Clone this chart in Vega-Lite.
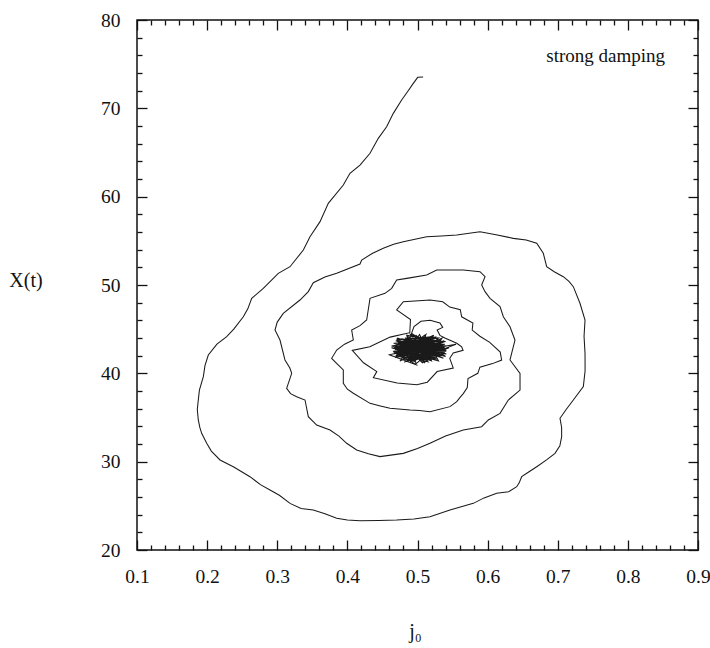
{
"$schema": "https://vega.github.io/schema/vega-lite/v6.json",
"width": 561, "height": 530,
"autosize": {"type": "none"},
"padding": {"left": 137, "top": 20, "right": 12, "bottom": 98},
"background": "white",
"config": {"view": {"stroke": "#111", "strokeWidth": 1.5}, "font": "Liberation Serif"},
"datasets": {
"traj": [
{"t":1,"j":0.508,"X":73.55},{"t":2,"j":0.5003,"X":73.51},{"t":3,"j":0.494,"X":72.83},{"t":4,"j":0.486,"X":71.9},{"t":5,"j":0.4774,"X":70.94},{"t":6,"j":0.4655,"X":69.43},{"t":7,"j":0.456,"X":67.92},{"t":8,"j":0.4441,"X":66.6},{"t":9,"j":0.4323,"X":64.91},{"t":10,"j":0.418,"X":63.58},
{"t":11,"j":0.4037,"X":62.64},{"t":12,"j":0.3942,"X":61.32},{"t":13,"j":0.3728,"X":59.25},{"t":14,"j":0.361,"X":57.17},{"t":15,"j":0.3467,"X":55.47},{"t":16,"j":0.3372,"X":53.96},{"t":17,"j":0.3182,"X":52.07},{"t":18,"j":0.3015,"X":51.32},{"t":19,"j":0.2801,"X":49.62},{"t":20,"j":0.2636,"X":48.49},
{"t":20.5,"j":0.258,"X":47.3},{"t":21,"j":0.2516,"X":46.41},{"t":21.5,"j":0.238,"X":45.0},{"t":22,"j":0.2279,"X":44.15},{"t":22.5,"j":0.214,"X":43.3},{"t":23,"j":0.2017,"X":42.07},{"t":23.5,"j":0.197,"X":40.9},{"t":24,"j":0.1946,"X":39.62},{"t":24.5,"j":0.189,"X":38.1},{"t":25,"j":0.1874,"X":36.98},{"t":25.5,"j":0.186,"X":35.9},{"t":26,"j":0.1874,"X":34.72},{"t":26.5,"j":0.1895,"X":33.9},{"t":27,"j":0.1922,"X":33.21},{"t":28,"j":0.1994,"X":32.08},{"t":28.5,"j":0.206,"X":31.2},{"t":29,"j":0.2184,"X":30.19},{"t":29.5,"j":0.238,"X":29.4},{"t":30,"j":0.2611,"X":28.3},
{"t":30.5,"j":0.276,"X":27.4},{"t":31,"j":0.2897,"X":26.79},{"t":31.5,"j":0.303,"X":26.2},{"t":32,"j":0.3182,"X":25.28},{"t":32.5,"j":0.334,"X":24.7},{"t":33,"j":0.3514,"X":24.53},{"t":33.5,"j":0.368,"X":24.1},{"t":34,"j":0.3848,"X":23.59},{"t":34.5,"j":0.40,"X":23.4},{"t":35,"j":0.418,"X":23.32},{"t":35.5,"j":0.445,"X":23.35},{"t":36,"j":0.4703,"X":23.39},{"t":36.5,"j":0.495,"X":23.5},{"t":37,"j":0.5178,"X":23.77},{"t":38,"j":0.5463,"X":24.53},{"t":39,"j":0.5796,"X":25.28},{"t":39.5,"j":0.595,"X":25.9},{"t":40,"j":0.6129,"X":26.42},
{"t":40.5,"j":0.63,"X":26.6},{"t":41,"j":0.6415,"X":27.17},{"t":41.5,"j":0.645,"X":27.6},{"t":42,"j":0.6486,"X":28.3},{"t":42.5,"j":0.658,"X":28.8},{"t":43,"j":0.67,"X":29.43},{"t":43.5,"j":0.684,"X":30.2},{"t":44,"j":0.6961,"X":30.94},{"t":44.5,"j":0.703,"X":31.8},{"t":45,"j":0.7056,"X":32.83},{"t":45.5,"j":0.7055,"X":33.9},{"t":46,"j":0.7032,"X":34.91},{"t":46.5,"j":0.712,"X":35.9},{"t":47,"j":0.7222,"X":36.98},{"t":48,"j":0.7365,"X":38.49},{"t":48.5,"j":0.739,"X":40.3},{"t":49,"j":0.7389,"X":42.26},{"t":49.5,"j":0.7375,"X":44.2},{"t":50,"j":0.7389,"X":46.04},
{"t":51,"j":0.7317,"X":47.93},{"t":52,"j":0.7222,"X":49.81},{"t":52.5,"j":0.716,"X":50.4},{"t":53,"j":0.7079,"X":50.94},{"t":53.5,"j":0.695,"X":51.5},{"t":54,"j":0.6842,"X":52.07},{"t":55,"j":0.6794,"X":53.59},{"t":56,"j":0.67,"X":54.72},{"t":56.5,"j":0.655,"X":55.1},{"t":57,"j":0.6366,"X":55.28},{"t":57.5,"j":0.612,"X":55.7},{"t":58,"j":0.5891,"X":56.03},{"t":59,"j":0.5559,"X":55.66},{"t":59.5,"j":0.534,"X":55.55},{"t":60,"j":0.5131,"X":55.47},
{"t":61,"j":0.4798,"X":54.9},{"t":61.5,"j":0.466,"X":54.6},{"t":62,"j":0.4512,"X":54.15},{"t":62.5,"j":0.436,"X":53.6},{"t":63,"j":0.4204,"X":52.83},{"t":64,"j":0.418,"X":52.38},{"t":65,"j":0.3848,"X":51.32},{"t":65.5,"j":0.368,"X":50.9},{"t":66,"j":0.3514,"X":50.26},{"t":67,"j":0.3443,"X":49.25},{"t":68,"j":0.3324,"X":48.3},{"t":69,"j":0.3086,"X":46.79},{"t":69.5,"j":0.300,"X":45.8},{"t":70,"j":0.2968,"X":44.9},
{"t":71,"j":0.3039,"X":43.77},{"t":72,"j":0.311,"X":41.51},{"t":72.5,"j":0.318,"X":40.6},{"t":73,"j":0.3206,"X":40},{"t":74,"j":0.3134,"X":38.3},{"t":74.5,"j":0.319,"X":37.7},{"t":75,"j":0.3277,"X":37.36},{"t":76,"j":0.3396,"X":36.98},{"t":77,"j":0.3443,"X":35.09},{"t":78,"j":0.3562,"X":34.15},{"t":79,"j":0.3752,"X":33.58},{"t":79.5,"j":0.388,"X":32.9},{"t":80,"j":0.399,"X":32.08},
{"t":81,"j":0.4133,"X":31.32},{"t":81.5,"j":0.43,"X":30.9},{"t":82,"j":0.4465,"X":30.57},{"t":83,"j":0.4798,"X":30.94},{"t":83.5,"j":0.50,"X":31.5},{"t":84,"j":0.5178,"X":32.08},{"t":84.5,"j":0.54,"X":32.9},{"t":85,"j":0.5653,"X":33.58},{"t":86,"j":0.5915,"X":33.96},{"t":87,"j":0.601,"X":34.72},{"t":88,"j":0.6177,"X":35.47},{"t":89,"j":0.6295,"X":36.98},{"t":90,"j":0.6462,"X":38.11},
{"t":91,"j":0.6462,"X":40},{"t":92,"j":0.6319,"X":41.51},{"t":93,"j":0.639,"X":43.77},{"t":94,"j":0.6319,"X":45.28},{"t":95,"j":0.6224,"X":46.41},{"t":96,"j":0.6177,"X":47.55},{"t":97,"j":0.6034,"X":48.49},{"t":98,"j":0.5963,"X":49.25},{"t":99,"j":0.5915,"X":50},{"t":100,"j":0.5963,"X":50.94},
{"t":101,"j":0.5891,"X":51.51},{"t":102,"j":0.5653,"X":51.7},{"t":103,"j":0.5274,"X":51.7},{"t":104,"j":0.5131,"X":51.13},{"t":105,"j":0.4846,"X":50.75},{"t":106,"j":0.4703,"X":50.57},{"t":107,"j":0.4632,"X":49.62},{"t":108,"j":0.4537,"X":49.06},{"t":109,"j":0.4323,"X":48.49},{"t":110,"j":0.4275,"X":46.04},
{"t":110.5,"j":0.418,"X":45.4},{"t":111,"j":0.4061,"X":44.9},{"t":112,"j":0.4085,"X":43.77},{"t":112.5,"j":0.396,"X":43.3},{"t":113,"j":0.3848,"X":42.64},{"t":114,"j":0.3776,"X":41.7},{"t":114.5,"j":0.385,"X":41.1},{"t":115,"j":0.3942,"X":40.38},{"t":116,"j":0.3942,"X":38.87},{"t":116.5,"j":0.40,"X":38.2},{"t":117,"j":0.4085,"X":37.74},{"t":118,"j":0.4323,"X":36.6},{"t":118.5,"j":0.447,"X":36.3},{"t":119,"j":0.4608,"X":36.04},{"t":120,"j":0.4893,"X":35.85},
{"t":120.5,"j":0.503,"X":35.8},{"t":121,"j":0.5178,"X":35.66},{"t":122,"j":0.5463,"X":36.23},{"t":122.5,"j":0.556,"X":36.8},{"t":123,"j":0.561,"X":37.3},{"t":124,"j":0.5653,"X":37.7},{"t":125,"j":0.571,"X":38.4},{"t":126,"j":0.572,"X":39.4},{"t":127,"j":0.586,"X":40},{"t":128,"j":0.589,"X":40.7},{"t":129,"j":0.607,"X":41.1},{"t":130,"j":0.62,"X":41.5},
{"t":131,"j":0.618,"X":42.4},{"t":132,"j":0.603,"X":43.5},{"t":133,"j":0.589,"X":44.2},{"t":134,"j":0.578,"X":44.9},{"t":135,"j":0.579,"X":45.7},{"t":136,"j":0.563,"X":46.4},{"t":137,"j":0.561,"X":47.2},{"t":138,"j":0.546,"X":47.5},{"t":139,"j":0.536,"X":48.1},{"t":140,"j":0.518,"X":48.3},
{"t":141,"j":0.4798,"X":48.11},{"t":142,"j":0.4703,"X":47.17},{"t":143,"j":0.49,"X":46.1},{"t":144,"j":0.489,"X":44.6},{"t":145,"j":0.461,"X":44.1},{"t":146,"j":0.432,"X":43},{"t":147,"j":0.407,"X":42.6},{"t":148,"j":0.423,"X":41.2},{"t":149,"j":0.442,"X":40.2},{"t":150,"j":0.437,"X":39.5},
{"t":151,"j":0.471,"X":38.9},{"t":152,"j":0.499,"X":38.7},{"t":153,"j":0.514,"X":39},{"t":154,"j":0.528,"X":40.2},{"t":155,"j":0.551,"X":40.6},{"t":156,"j":0.546,"X":41.7},{"t":157,"j":0.551,"X":42.3},{"t":158,"j":0.565,"X":42.6},{"t":159,"j":0.563,"X":43},{"t":160,"j":0.556,"X":43.4},
{"t":161,"j":0.539,"X":44},{"t":162,"j":0.532,"X":44.3},{"t":163,"j":0.528,"X":44.9},{"t":164,"j":0.536,"X":45.2},{"t":165,"j":0.532,"X":45.7},{"t":166,"j":0.518,"X":46.0},{"t":167,"j":0.505,"X":45.9},{"t":168,"j":0.495,"X":45.3},
{"t":169,"j":0.49,"X":44.2},{"t":170,"j":0.52,"X":43.9},{"t":171,"j":0.472,"X":43.5},{"t":172,"j":0.536,"X":43.1},{"t":173,"j":0.468,"X":42.7},{"t":174,"j":0.53,"X":42.3},{"t":175,"j":0.475,"X":42.0},{"t":176,"j":0.538,"X":42.9},{"t":177,"j":0.47,"X":43.2},{"t":178,"j":0.527,"X":44.1},
{"t":179,"j":0.48,"X":43.8},{"t":180,"j":0.541,"X":42.6},{"t":181,"j":0.466,"X":42.4},{"t":182,"j":0.522,"X":41.7},{"t":183,"j":0.478,"X":41.5},{"t":184,"j":0.535,"X":42.1},{"t":185,"j":0.47,"X":43.0},{"t":186,"j":0.532,"X":43.6},{"t":187,"j":0.485,"X":44.3},{"t":188,"j":0.515,"X":41.3},
{"t":189,"j":0.474,"X":42.2},{"t":190,"j":0.539,"X":43.3},{"t":191,"j":0.469,"X":43.7},{"t":192,"j":0.525,"X":42.0},{"t":193,"j":0.481,"X":41.8},{"t":194,"j":0.537,"X":42.5},{"t":195,"j":0.467,"X":42.9},{"t":196,"j":0.529,"X":44.0},{"t":197,"j":0.476,"X":43.4},{"t":198,"j":0.54,"X":42.8},
{"t":199,"j":0.472,"X":41.9},{"t":200,"j":0.518,"X":41.5},{"t":201,"j":0.49,"X":44.4},{"t":202,"j":0.533,"X":43.0},{"t":203,"j":0.465,"X":42.5},{"t":204,"j":0.526,"X":41.8},{"t":205,"j":0.483,"X":43.9},{"t":206,"j":0.538,"X":42.3},{"t":207,"j":0.471,"X":42.6},{"t":208,"j":0.531,"X":43.8},
{"t":209,"j":0.478,"X":42.1},{"t":210,"j":0.536,"X":42.0},{"t":211,"j":0.468,"X":43.1},{"t":212,"j":0.521,"X":44.2},{"t":213,"j":0.487,"X":41.4},{"t":214,"j":0.534,"X":42.7},{"t":215,"j":0.473,"X":43.6},{"t":216,"j":0.542,"X":43.1},{"t":217,"j":0.47,"X":42.3},{"t":218,"j":0.528,"X":41.6},
{"t":219,"j":0.482,"X":42.9},{"t":220,"j":0.537,"X":43.5},{"t":221,"j":0.466,"X":42.8},{"t":222,"j":0.524,"X":42.2},{"t":223,"j":0.476,"X":41.7},{"t":224,"j":0.539,"X":42.4},{"t":225,"j":0.471,"X":43.3},{"t":226,"j":0.53,"X":44.0},{"t":227,"j":0.495,"X":41.3},{"t":228,"j":0.512,"X":44.4},
{"t":229,"j":0.469,"X":42.0},{"t":230,"j":0.535,"X":43.2},{"t":231,"j":0.477,"X":43.9},{"t":232,"j":0.541,"X":42.5},{"t":233,"j":0.474,"X":42.4},{"t":234,"j":0.527,"X":43.4},{"t":235,"j":0.46,"X":42.1},{"t":236,"j":0.5,"X":40.9},{"t":237,"j":0.485,"X":41.6},{"t":238,"j":0.532,"X":42.6},
{"t":239,"j":0.555,"X":43.3},{"t":240,"j":0.52,"X":42.8},{"t":241,"j":0.505,"X":42.7},
{"t":242,"j":0.47,"X":43.9},{"t":243,"j":0.51,"X":41.2},{"t":244,"j":0.535,"X":44.0},{"t":245,"j":0.48,"X":41.9},{"t":246,"j":0.524,"X":43.7},{"t":247,"j":0.466,"X":43.4},{"t":248,"j":0.54,"X":41.9},{"t":249,"j":0.492,"X":44.5},{"t":250,"j":0.478,"X":42.5},
{"t":251,"j":0.53,"X":41.4},{"t":252,"j":0.51,"X":44.3},{"t":253,"j":0.468,"X":41.8},{"t":254,"j":0.538,"X":43.7},{"t":255,"j":0.498,"X":41.1},{"t":256,"j":0.485,"X":44.2},{"t":257,"j":0.541,"X":42.2},{"t":258,"j":0.463,"X":42.9},{"t":259,"j":0.52,"X":41.4},{"t":260,"j":0.503,"X":44.4},
{"t":261,"j":0.475,"X":41.4},{"t":262,"j":0.534,"X":43.9},{"t":263,"j":0.47,"X":42.2},{"t":264,"j":0.545,"X":42.9},{"t":265,"j":0.49,"X":41.3},{"t":266,"j":0.515,"X":44.1},{"t":267,"j":0.472,"X":43.8},{"t":268,"j":0.537,"X":41.7},{"t":269,"j":0.478,"X":43.2},{"t":270,"j":0.528,"X":43.1},
{"t":271,"j":0.5,"X":41.6},{"t":272,"j":0.483,"X":44.0},{"t":273,"j":0.54,"X":43.6},{"t":274,"j":0.466,"X":42.2},{"t":275,"j":0.523,"X":44.3},{"t":276,"j":0.494,"X":41.5},{"t":277,"j":0.536,"X":42.4},{"t":278,"j":0.471,"X":44.0},{"t":279,"j":0.507,"X":41.2},{"t":280,"j":0.543,"X":42.9},
{"t":281,"j":0.476,"X":41.9},{"t":282,"j":0.518,"X":43.9},{"t":283,"j":0.463,"X":43.1},{"t":284,"j":0.531,"X":41.9},{"t":285,"j":0.498,"X":44.3},{"t":286,"j":0.482,"X":41.3},{"t":287,"j":0.539,"X":43.0},{"t":288,"j":0.474,"X":43.0},{"t":289,"j":0.526,"X":42.7},{"t":290,"j":0.5,"X":43.5},
{"t":291,"j":0.49,"X":42.0},{"t":292,"j":0.515,"X":42.6},{"t":293,"j":0.495,"X":43.0},{"t":294,"j":0.51,"X":43.3},{"t":295,"j":0.502,"X":42.4}
],
"note": [{"j": 0.853, "X": 75.25, "label": "strong damping"}]
},
"layer": [
{
"data": {"name": "traj"},
"mark": {"type": "line", "stroke": "#1a1a1a", "strokeWidth": 1.05, "clip": true},
"encoding": {
"x": {"field": "j", "type": "quantitative", "scale": {"domain": [0.1, 0.9], "nice": false, "zero": false},
 "axis": {"orient": "bottom", "values": [0.1,0.12,0.14,0.16,0.18,0.2,0.22,0.24,0.26,0.28,0.3,0.32,0.34,0.36,0.38,0.4,0.42,0.44,0.46,0.48,0.5,0.52,0.54,0.56,0.58,0.6,0.62,0.64,0.66,0.68,0.7,0.72,0.74,0.76,0.78,0.8,0.82,0.84,0.86,0.88,0.9],
  "format": ".1f", "labelExpr": "abs(datum.value*10 - round(datum.value*10)) < 0.001 ? datum.label : ''",
  "tickSize": {"condition": {"test": "abs(datum.value*10 - round(datum.value*10)) < 0.001", "value": -10}, "value": -5},
  "tickColor": "#111", "tickWidth": 1.3, "domain": false, "grid": false,
  "labelFont": "Liberation Serif", "labelFontSize": 19.5, "labelColor": "#111", "labelPadding": 27, "labelFlush": false, "labelOverlap": false, "labelBound": false,
  "title": "j₀", "titleFont": "Liberation Serif", "titleFontSize": 20, "titleFontWeight": "normal", "titleColor": "#111",
  "titleX": 278, "titleY": 87.5, "titleAlign": "center", "titleBaseline": "alphabetic", "titleAngle": 0}},
"y": {"field": "X", "type": "quantitative", "scale": {"domain": [20, 80], "nice": false, "zero": false},
 "axis": {"orient": "left", "values": [20,22,24,26,28,30,32,34,36,38,40,42,44,46,48,50,52,54,56,58,60,62,64,66,68,70,72,74,76,78,80],
  "labelExpr": "datum.value % 10 == 0 ? datum.label : ''",
  "tickSize": {"condition": {"test": "datum.value % 10 == 0", "value": -10}, "value": -5},
  "tickColor": "#111", "tickWidth": 1.3, "domain": false, "grid": false,
  "labelFont": "Liberation Serif", "labelFontSize": 19.5, "labelColor": "#111", "labelPadding": 27, "labelFlush": false, "labelOverlap": false, "labelBound": false,
  "title": "X(t)", "titleFont": "Liberation Serif", "titleFontSize": 20, "titleFontWeight": "normal", "titleColor": "#111",
  "titleX": -111.5, "titleY": 266, "titleAlign": "center", "titleBaseline": "alphabetic", "titleAngle": 0}},
"order": {"field": "t", "type": "quantitative"}
}
},
{
"data": {"name": "note"},
"mark": {"type": "text", "align": "right", "baseline": "alphabetic", "font": "Liberation Serif", "fontSize": 19, "color": "#111"},
"encoding": {
"x": {"field": "j", "type": "quantitative",
 "axis": {"orient": "top", "values": [0.1,0.12,0.14,0.16,0.18,0.2,0.22,0.24,0.26,0.28,0.3,0.32,0.34,0.36,0.38,0.4,0.42,0.44,0.46,0.48,0.5,0.52,0.54,0.56,0.58,0.6,0.62,0.64,0.66,0.68,0.7,0.72,0.74,0.76,0.78,0.8,0.82,0.84,0.86,0.88,0.9],
  "labels": false, "title": null, "domain": false, "grid": false, "tickColor": "#111", "tickWidth": 1.3,
  "tickSize": {"condition": {"test": "abs(datum.value*10 - round(datum.value*10)) < 0.001", "value": -10}, "value": -5}}},
"y": {"field": "X", "type": "quantitative",
 "axis": {"orient": "right", "values": [20,22,24,26,28,30,32,34,36,38,40,42,44,46,48,50,52,54,56,58,60,62,64,66,68,70,72,74,76,78,80],
  "labels": false, "title": null, "domain": false, "grid": false, "tickColor": "#111", "tickWidth": 1.3,
  "tickSize": {"condition": {"test": "datum.value % 10 == 0", "value": -10}, "value": -5}}},
"text": {"field": "label"}
}
}
]
}
